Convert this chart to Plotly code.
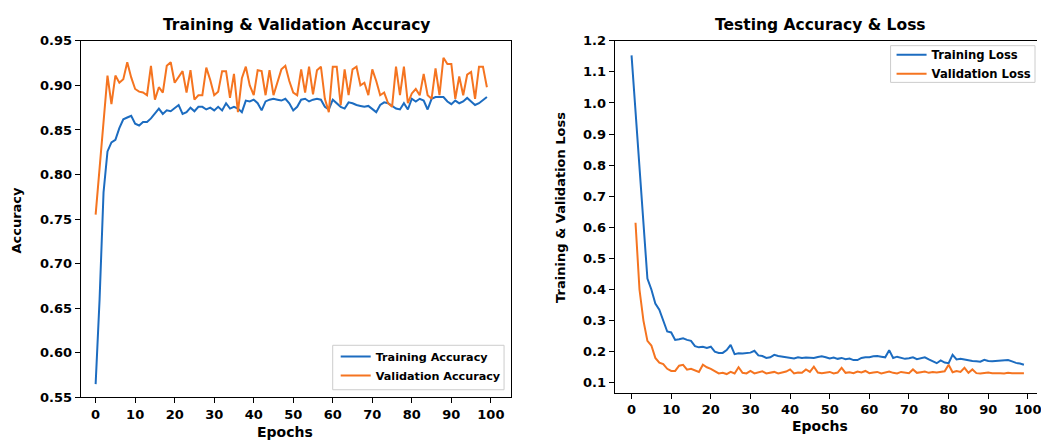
import plotly.graph_objects as go

# ---------------- data ----------------
acc_train = [0.565, 0.66, 0.78, 0.826, 0.836, 0.839, 0.852, 0.862, 0.864, 0.866,
             0.857, 0.855, 0.859, 0.859, 0.863, 0.869, 0.874, 0.868, 0.872, 0.871,
             0.874, 0.878, 0.868, 0.870, 0.875, 0.871, 0.876,
             0.876, 0.873, 0.875, 0.872, 0.876, 0.872, 0.880, 0.874, 0.876, 0.874,
             0.870, 0.883, 0.882, 0.884, 0.880, 0.872, 0.882, 0.884, 0.885, 0.884,
             0.883, 0.885, 0.880, 0.872, 0.876, 0.884, 0.885,
             0.882, 0.884, 0.885, 0.884, 0.876, 0.873, 0.884, 0.880, 0.876, 0.874,
             0.881, 0.880, 0.878, 0.877, 0.876, 0.877, 0.873, 0.870, 0.878, 0.881,
             0.880, 0.877, 0.874, 0.873, 0.880, 0.873,
             0.885, 0.882, 0.885, 0.883, 0.873, 0.885, 0.887, 0.887, 0.887, 0.882,
             0.879, 0.883, 0.880, 0.882, 0.886, 0.882, 0.878, 0.880, 0.883, 0.887]

acc_val = [0.755, 0.805, 0.862, 0.911, 0.879, 0.911, 0.903, 0.907, 0.926, 0.909,
           0.896, 0.893, 0.892, 0.889, 0.922, 0.884, 0.898, 0.892, 0.922, 0.926,
           0.903, 0.909, 0.916, 0.892, 0.917, 0.884, 0.889,
           0.889, 0.920, 0.906, 0.889, 0.893, 0.916, 0.916, 0.886, 0.913, 0.870,
           0.908, 0.921, 0.900, 0.889, 0.917, 0.916, 0.889, 0.917, 0.889, 0.903,
           0.918, 0.922, 0.905, 0.892, 0.889,
           0.918, 0.892, 0.921, 0.890, 0.917, 0.921, 0.885, 0.870, 0.921, 0.921,
           0.878, 0.918, 0.889, 0.918, 0.921, 0.900, 0.903, 0.889, 0.918, 0.905,
           0.889, 0.892, 0.880, 0.876, 0.921, 0.889, 0.921, 0.880, 0.891, 0.896,
           0.889, 0.913, 0.889, 0.885, 0.919, 0.889, 0.931, 0.924, 0.924, 0.885,
           0.910, 0.889, 0.912, 0.915, 0.885, 0.921, 0.921, 0.898]

loss_train = [1.153, 0.97, 0.79, 0.61, 0.435, 0.40, 0.355, 0.335, 0.30, 0.265,
              0.262, 0.238, 0.240, 0.243, 0.238, 0.235, 0.218, 0.214, 0.216, 0.212,
              0.216, 0.200, 0.196, 0.196, 0.205, 0.222, 0.192, 0.195, 0.194, 0.196,
              0.197, 0.203, 0.188, 0.186, 0.180, 0.182, 0.190, 0.186, 0.184, 0.184,
              0.180, 0.178, 0.182, 0.180, 0.181, 0.180, 0.180, 0.183, 0.185, 0.182,
              0.178, 0.181, 0.177, 0.180, 0.176, 0.178, 0.173, 0.173, 0.180, 0.182,
              0.182, 0.185, 0.186, 0.184, 0.182, 0.205, 0.180, 0.184, 0.181, 0.177,
              0.179, 0.182, 0.176, 0.178, 0.182, 0.175, 0.170, 0.163, 0.172, 0.165,
              0.163, 0.190, 0.175, 0.177, 0.175, 0.172, 0.170, 0.169, 0.168, 0.174,
              0.170, 0.169, 0.170, 0.169, 0.170, 0.173, 0.169, 0.164, 0.162, 0.158]

loss_val = [0.615, 0.40, 0.30, 0.235, 0.22, 0.18, 0.165, 0.16, 0.145,
            0.138, 0.138, 0.155, 0.158, 0.142, 0.145, 0.14, 0.135, 0.158, 0.15,
            0.145, 0.138, 0.13, 0.132, 0.128, 0.135, 0.13,
            0.150, 0.132, 0.130, 0.138, 0.130, 0.133, 0.137, 0.130, 0.133, 0.135,
            0.130, 0.132, 0.136, 0.143, 0.130, 0.133, 0.132, 0.143, 0.135, 0.152,
            0.133, 0.131, 0.132, 0.135, 0.130, 0.133, 0.148, 0.132, 0.134, 0.131,
            0.136, 0.133, 0.138, 0.131, 0.133, 0.135, 0.130, 0.133, 0.136, 0.132,
            0.130, 0.135, 0.133, 0.131, 0.143, 0.132, 0.134, 0.136, 0.132, 0.135,
            0.133, 0.134, 0.137, 0.158, 0.134, 0.138, 0.135, 0.148, 0.132, 0.143,
            0.131, 0.130, 0.132, 0.133, 0.131, 0.132, 0.131, 0.130, 0.132, 0.131,
            0.130, 0.131, 0.131]

epochs_acc = list(range(len(acc_train)))
epochs_loss_train = list(range(len(loss_train)))
epochs_loss_val = list(range(1, len(loss_val) + 1))

epoch_ticks = list(range(0, 101, 10))
acc_ticks = [0.55, 0.60, 0.65, 0.70, 0.75, 0.80, 0.85, 0.90, 0.95]
loss_ticks = [0.1, 0.2, 0.3, 0.4, 0.5, 0.6, 0.7, 0.8, 0.9, 1.0, 1.1, 1.2]

# ---------------- style ----------------
W, H = 1041, 448
BLUE = "#1c6cc0"
ORANGE = "#f57420"
FAM = "DejaVu Sans"


def fx(p):
    return p / W


def fy(p):
    return (H - p) / H


tickfont = dict(family=FAM, size=13, color="black", weight="bold")

fig = go.Figure()
fig.add_trace(go.Scatter(x=epochs_acc, y=acc_train, mode="lines", name="Training Accuracy",
                         line=dict(color=BLUE, width=2), xaxis="x", yaxis="y", legend="legend"))
fig.add_trace(go.Scatter(x=epochs_acc, y=acc_val, mode="lines", name="Validation Accuracy",
                         line=dict(color=ORANGE, width=2), xaxis="x", yaxis="y", legend="legend"))
fig.add_trace(go.Scatter(x=epochs_loss_train, y=loss_train, mode="lines", name="Training Loss",
                         line=dict(color=BLUE, width=2), xaxis="x2", yaxis="y2", legend="legend2"))
fig.add_trace(go.Scatter(x=epochs_loss_val, y=loss_val, mode="lines", name="Validation Loss",
                         line=dict(color=ORANGE, width=2), xaxis="x2", yaxis="y2", legend="legend2"))

common = dict(ticks="outside", ticklen=5, tickwidth=1, tickcolor="black",
              showline=True, linecolor="black", linewidth=1,
              showgrid=False, zeroline=False, tickfont=tickfont)

fig.update_layout(
    width=W, height=H,
    margin=dict(l=0, r=0, t=0, b=0),
    paper_bgcolor="white", plot_bgcolor="white",
    xaxis=dict(domain=[fx(81), fx(513)], range=[-3.78, 105.1], tickvals=epoch_ticks,
               mirror=True, anchor="y", **common),
    yaxis=dict(domain=[fy(404), fy(35)], range=[0.55, 0.95], tickvals=acc_ticks,
               tickformat=".2f", mirror=True, anchor="x", **common),
    xaxis2=dict(domain=[fx(617), 1.0], range=[-4.27, 102.3], tickvals=epoch_ticks,
                mirror=True, anchor="y2", ticklabeloverflow="allow", **common),
    yaxis2=dict(domain=[fy(399), fy(35)], range=[0.0683, 1.2], tickvals=loss_ticks,
                tickformat=".1f", mirror=False, anchor="x2", **common),
    legend=dict(x=fx(337), y=fy(346.5), xanchor="left", yanchor="top",
                bgcolor="rgba(0,0,0,0)", borderwidth=0,
                font=dict(family=FAM, size=11.2, color="black", weight="bold"),
                itemwidth=30, tracegroupgap=0),
    legend2=dict(x=fx(895), y=fy(34.5), xanchor="left", yanchor="top",
                 bgcolor="rgba(0,0,0,0)", borderwidth=0,
                 font=dict(family=FAM, size=11.6, color="black", weight="bold"),
                 itemwidth=30, tracegroupgap=0),
    showlegend=True,
)

# legend frames (matplotlib-style boxes)
for (x0, x1, y0, y1) in [(334, 506, 350, 396), (894, 1039, 40, 78)]:
    fig.add_shape(type="rect", xref="paper", yref="paper",
                  x0=fx(x0), x1=fx(x1), y0=fy(y1), y1=fy(y0),
                  line=dict(color="#cccccc", width=1), fillcolor="white",
                  opacity=1, layer="above")


def label(text, x, y, size, angle=0):
    fig.add_annotation(text=text, x=fx(x), y=fy(y), xref="paper", yref="paper",
                       showarrow=False, xanchor="center", yanchor="middle",
                       textangle=angle,
                       font=dict(family=FAM, size=size, color="black", weight="bold"))


label("Training &amp; Validation Accuracy", 298, 19, 15.5)
label("Testing Accuracy &amp; Loss", 824, 19, 15.5)
label("Epochs", 286, 440, 14)
label("Epochs", 823, 433, 14)
label("Accuracy", 17, 220, 13, -90)
label("Training &amp; Validation Loss", 562, 207, 13, -90)

fig.write_html("out.html")
